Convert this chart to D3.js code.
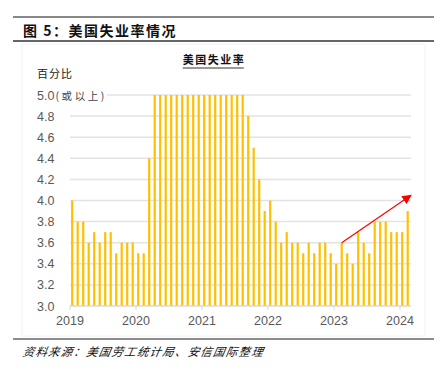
<!DOCTYPE html>
<html>
<head>
<meta charset="utf-8">
<script src="https://cdn.jsdelivr.net/npm/d3@7.9.0/dist/d3.min.js"></script>
<style>
  body { margin: 0; background: #fff; }
  svg { display: block; }
</style>
</head>
<body>
<div id="chart"></div>
<script>
// monthly unemployment rate, Jan 2019 .. Feb 2024 (bars capped at 5.0)
const years = [2019, 2020, 2021, 2022, 2023, 2024];
const rates = [
  4.0, 3.8, 3.8, 3.6, 3.7, 3.6, 3.7, 3.7, 3.5, 3.6, 3.6, 3.6, // 2019
  3.5, 3.5, 4.4, 5.0, 5.0, 5.0, 5.0, 5.0, 5.0, 5.0, 5.0, 5.0, // 2020
  5.0, 5.0, 5.0, 5.0, 5.0, 5.0, 5.0, 5.0, 4.8, 4.5, 4.2, 3.9, // 2021
  4.0, 3.8, 3.6, 3.7, 3.6, 3.6, 3.5, 3.6, 3.5, 3.6, 3.6, 3.5, // 2022
  3.4, 3.6, 3.5, 3.4, 3.7, 3.6, 3.5, 3.8, 3.8, 3.8, 3.7, 3.7, // 2023
  3.7, 3.9                                                   // 2024
];
const yTicks = [3.0, 3.2, 3.4, 3.6, 3.8, 4.0, 4.2, 4.4, 4.6, 4.8, 5.0];
// trend arrow: [month index, value]
const arrowFrom = [49, 3.6];
const arrowTo = [62, 4.05];

const W = 443, H = 371;
const svg = d3.select("#chart").append("svg")
  .attr("width", W).attr("height", H)
  .style("font-family", "'Liberation Sans', Arial, sans-serif");

const cjk = "'Noto Sans CJK SC', sans-serif";

// header / footer rules
svg.append("line").attr("x1", 13).attr("x2", 434).attr("y1", 17).attr("y2", 17)
  .attr("stroke", "#888").attr("stroke-width", 2);
svg.append("line").attr("x1", 13).attr("x2", 434).attr("y1", 41).attr("y2", 41)
  .attr("stroke", "#333").attr("stroke-width", 1.5);
svg.append("line").attr("x1", 13).attr("x2", 434).attr("y1", 339).attr("y2", 339)
  .attr("stroke", "#666").attr("stroke-width", 1.5);

// faint frame around chart
svg.append("rect").attr("x", 22).attr("y", 44).attr("width", 403).attr("height", 292)
  .attr("fill", "none").attr("stroke", "#f2f2f2").attr("stroke-width", 1);

svg.append("text").attr("x", 23).attr("y", 36)
  .attr("font-family", cjk).attr("font-size", 14).attr("font-weight", "bold")
  .attr("fill", "#111").attr("letter-spacing", 1.5)
  .text("图 5：美国失业率情况");

svg.append("text").attr("x", 23).attr("y", 356)
  .attr("font-family", cjk).attr("font-size", 11.5).attr("font-style", "italic")
  .attr("fill", "#111").attr("letter-spacing", 1.2)
  .attr("transform", "skewX(-10) translate(62,0)")
  .text("资料来源：美国劳工统计局、安信国际整理");

// chart title
const title = svg.append("text").attr("x", 214).attr("y", 64)
  .attr("text-anchor", "middle")
  .attr("font-family", cjk).attr("font-size", 11).attr("font-weight", "bold")
  .attr("fill", "#111").attr("letter-spacing", 1.5)
  .text("美国失业率");
const tb = title.node().getBBox();
svg.append("line").attr("x1", tb.x).attr("x2", tb.x + tb.width - 1.5)
  .attr("y1", 68).attr("y2", 68).attr("stroke", "#333").attr("stroke-width", 1);

const margin = {left: 70, right: 32, top: 95, bottom: 65};
const x = d3.scaleLinear().domain([0, rates.length]).range([margin.left, W - margin.right]);
const y = d3.scaleLinear().domain([3.0, 5.0]).range([H - margin.bottom, margin.top]);

// gridlines
svg.append("g").selectAll("line").data(yTicks.slice(1)).join("line")
  .attr("x1", x(0)).attr("x2", x(rates.length))
  .attr("y1", d => y(d)).attr("y2", d => y(d))
  .attr("stroke", "#e3e3e3").attr("stroke-width", 1.5);

// bars
const step = x(1) - x(0);
svg.append("g").selectAll("rect").data(rates).join("rect")
  .attr("x", (d, i) => x(i) + step * 0.2)
  .attr("width", step * 0.4)
  .attr("y", d => y(d))
  .attr("height", d => y(3.0) - y(d))
  .attr("fill", "#FFC000");

// x axis
const xAxis = svg.append("g");
xAxis.append("line").attr("x1", x(0)).attr("x2", x(rates.length))
  .attr("y1", y(3.0)).attr("y2", y(3.0)).attr("stroke", "#d9d9d9").attr("stroke-width", 1.5);
xAxis.selectAll(".tk").data(years).join("line").attr("class", "tk")
  .attr("x1", (d, i) => x(i * 12)).attr("x2", (d, i) => x(i * 12))
  .attr("y1", y(3.0)).attr("y2", y(3.0) + 4).attr("stroke", "#d9d9d9");
xAxis.selectAll("text").data(years).join("text")
  .attr("x", (d, i) => x(i * 12)).attr("y", y(3.0) + 19)
  .attr("text-anchor", "middle").attr("font-size", 12.5).attr("fill", "#595959")
  .text(d => d);

// y labels
const topLbl = yTicks[yTicks.length - 1];
const yAxis = svg.append("g");
const yl = yAxis.selectAll("text.v").data(yTicks).join("text").attr("class", "v")
  .attr("x", 37).attr("y", d => y(d) + 4.5)
  .attr("font-size", 12.5).attr("fill", "#595959")
  .text(d => d.toFixed(1));
const topText = yl.filter(d => d === topLbl);
topText.append("tspan")
  .attr("font-family", cjk).attr("font-size", 10.5).attr("fill", "#444")
  .attr("dx", 1).attr("letter-spacing", 2.6)
  .text("(或以上)");
const eb = topText.node().getBBox();
yAxis.insert("rect", "text").attr("x", 60).attr("y", eb.y)
  .attr("width", eb.x + eb.width - 60).attr("height", eb.height).attr("fill", "#fff");
svg.append("text").attr("x", 37).attr("y", 78)
  .attr("font-family", cjk).attr("font-size", 11).attr("fill", "#222")
  .attr("letter-spacing", 1)
  .text("百分比");

// trend arrow
svg.append("defs").append("marker").attr("id", "ah")
  .attr("viewBox", "0 0 10 10").attr("refX", 9).attr("refY", 5)
  .attr("markerWidth", 8).attr("markerHeight", 8).attr("orient", "auto")
  .append("path").attr("d", "M0,0L10,5L0,10Z").attr("fill", "#ff0000");
svg.append("line")
  .attr("x1", x(arrowFrom[0]) + step * 0.4).attr("y1", y(arrowFrom[1]))
  .attr("x2", x(arrowTo[0])).attr("y2", y(arrowTo[1]))
  .attr("stroke", "#ff0000").attr("stroke-width", 1.2)
  .attr("marker-end", "url(#ah)");
</script>
</body>
</html>
